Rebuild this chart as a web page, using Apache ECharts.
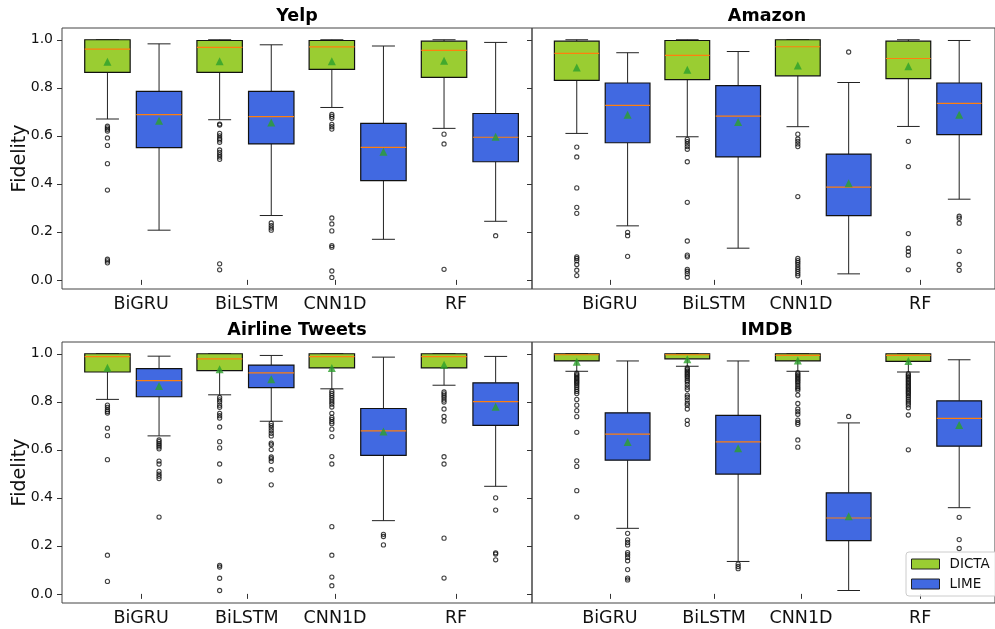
<!DOCTYPE html>
<html>
<head>
<meta charset="utf-8">
<script src="https://cdn.jsdelivr.net/npm/echarts@6/dist/echarts.min.js"></script>
<style>html,body{margin:0;padding:0;background:#fff}#c{width:995px;height:629px}</style>
</head>
<body>
<div id="c"></div>
<script>
// ---------------- data ----------------
const models = ['BiGRU', 'BiLSTM', 'CNN1D', 'RF'];
const datasets = ['Yelp', 'Amazon', 'Airline Tweets', 'IMDB'];
const modelTickPos = [1.07, 2.012, 2.799, 3.877];
const pairCenters = [1, 2, 3, 4];
const yTicks = [0.0, 0.2, 0.4, 0.6, 0.8, 1.0];
// box stats per model: [lowWhisker, q1, median, q3, highWhisker, mean]
const yelpDICTA = [[0.670, 0.864, 0.961, 1.0, 1.0, 0.908], [0.667, 0.864, 0.968, 0.997, 1.0, 0.911], [0.718, 0.877, 0.970, 0.997, 1.0, 0.911], [0.631, 0.843, 0.956, 0.994, 1.0, 0.913]];
const yelpLIME = [[0.207, 0.551, 0.688, 0.785, 0.983, 0.663], [0.268, 0.566, 0.680, 0.785, 0.979, 0.655], [0.169, 0.413, 0.552, 0.652, 0.974, 0.534], [0.244, 0.492, 0.594, 0.693, 0.989, 0.596]];
const amazonDICTA = [[0.610, 0.831, 0.943, 0.994, 1.0, 0.885], [0.596, 0.834, 0.935, 0.997, 1.0, 0.875], [0.638, 0.850, 0.971, 1.0, 1.0, 0.893], [0.639, 0.838, 0.922, 0.994, 1.0, 0.890]];
const amazonLIME = [[0.225, 0.571, 0.727, 0.820, 0.946, 0.688], [0.132, 0.512, 0.682, 0.809, 0.951, 0.657], [0.025, 0.268, 0.386, 0.524, 0.822, 0.402], [0.336, 0.605, 0.735, 0.820, 0.997, 0.688]];
const airlineDICTA = [[0.810, 0.924, 0.988, 1.0, 1.0, 0.942], [0.829, 0.930, 0.979, 1.0, 1.0, 0.935], [0.854, 0.941, 0.988, 1.0, 1.0, 0.941], [0.869, 0.941, 0.988, 1.0, 1.0, 0.954]];
const airlineLIME = [[0.658, 0.821, 0.888, 0.938, 0.990, 0.866], [0.719, 0.859, 0.920, 0.953, 0.993, 0.894], [0.305, 0.577, 0.679, 0.772, 0.986, 0.676], [0.448, 0.702, 0.801, 0.879, 0.989, 0.779]];
const imdbDICTA = [[0.927, 0.970, 0.996, 1.0, 1.0, 0.967], [0.948, 0.979, 0.996, 1.0, 1.0, 0.977], [0.927, 0.970, 0.993, 1.0, 1.0, 0.972], [0.924, 0.968, 0.993, 1.0, 1.0, 0.970]];
const imdbLIME = [[0.273, 0.557, 0.665, 0.754, 0.970, 0.633], [0.135, 0.499, 0.633, 0.743, 0.970, 0.607], [0.014, 0.222, 0.316, 0.421, 0.712, 0.323], [0.359, 0.615, 0.731, 0.804, 0.975, 0.703]];
// outliers per model
const yelpDICTAOut = [[0.640, 0.633, 0.627, 0.620, 0.591, 0.560, 0.484, 0.374, 0.086, 0.079, 0.071], [0.649, 0.645, 0.610, 0.600, 0.590, 0.583, 0.573, 0.541, 0.531, 0.521, 0.512, 0.502, 0.067, 0.042], [0.689, 0.681, 0.673, 0.648, 0.638, 0.628, 0.258, 0.233, 0.204, 0.143, 0.136, 0.037, 0.010], [0.607, 0.566, 0.044]];
const yelpLIMEOut = [[], [0.237, 0.226, 0.216, 0.207], [], [0.184]];
const amazonDICTAOut = [[0.553, 0.512, 0.383, 0.302, 0.277, 0.096, 0.089, 0.080, 0.064, 0.040, 0.018], [0.585, 0.576, 0.566, 0.555, 0.544, 0.492, 0.323, 0.162, 0.103, 0.096, 0.044, 0.036, 0.026, 0.011], [0.607, 0.587, 0.577, 0.566, 0.555, 0.347, 0.089, 0.080, 0.072, 0.063, 0.053, 0.044, 0.035, 0.026, 0.017], [0.577, 0.472, 0.193, 0.132, 0.118, 0.103, 0.042]];
const amazonLIMEOut = [[0.198, 0.184, 0.098], [], [0.949], [0.265, 0.257, 0.236, 0.119, 0.064, 0.040]];
const airlineDICTAOut = [[0.786, 0.777, 0.767, 0.760, 0.753, 0.690, 0.659, 0.559, 0.161, 0.052], [0.818, 0.808, 0.799, 0.786, 0.777, 0.752, 0.742, 0.732, 0.695, 0.634, 0.608, 0.541, 0.470, 0.119, 0.112, 0.065, 0.014], [0.844, 0.835, 0.826, 0.817, 0.808, 0.799, 0.790, 0.778, 0.752, 0.735, 0.727, 0.717, 0.709, 0.686, 0.655, 0.572, 0.541, 0.280, 0.161, 0.070, 0.034], [0.841, 0.833, 0.825, 0.817, 0.807, 0.799, 0.770, 0.739, 0.720, 0.571, 0.541, 0.232, 0.066]];
const airlineLIMEOut = [[0.641, 0.634, 0.626, 0.619, 0.612, 0.604, 0.553, 0.541, 0.510, 0.499, 0.490, 0.480, 0.320], [0.710, 0.701, 0.691, 0.680, 0.669, 0.658, 0.628, 0.621, 0.601, 0.570, 0.563, 0.552, 0.517, 0.454], [0.248, 0.239, 0.204], [0.400, 0.349, 0.171, 0.166, 0.142]];
const imdbDICTAOut = [[0.919, 0.913, 0.908, 0.902, 0.897, 0.891, 0.886, 0.880, 0.874, 0.867, 0.859, 0.851, 0.843, 0.834, 0.810, 0.786, 0.763, 0.738, 0.673, 0.554, 0.531, 0.430, 0.320], [0.941, 0.935, 0.929, 0.923, 0.917, 0.911, 0.905, 0.898, 0.890, 0.883, 0.872, 0.861, 0.851, 0.828, 0.819, 0.807, 0.794, 0.786, 0.770, 0.723, 0.706], [0.921, 0.915, 0.909, 0.903, 0.897, 0.891, 0.885, 0.878, 0.870, 0.862, 0.855, 0.848, 0.828, 0.793, 0.770, 0.759, 0.748, 0.724, 0.714, 0.706, 0.641, 0.611], [0.917, 0.911, 0.905, 0.899, 0.893, 0.887, 0.881, 0.875, 0.869, 0.863, 0.857, 0.851, 0.845, 0.839, 0.833, 0.826, 0.819, 0.811, 0.803, 0.795, 0.787, 0.775, 0.745, 0.600]];
const imdbLIMEOut = [[0.252, 0.225, 0.214, 0.204, 0.172, 0.163, 0.152, 0.138, 0.101, 0.066, 0.058], [0.124, 0.114, 0.105], [0.739], [0.319, 0.226, 0.189]];

// ---------------- styling / layout ----------------
const FONT = 'DejaVu Sans';
const DICTA_COLOR = '#9acd32';
const LIME_COLOR = '#4169e1';
const MEDIAN_COLOR = '#ff7f0e';
const MEAN_COLOR = '#2ca02c';
const OFFSET = 0.23;
const BOX_W = 0.405;
const CAP_W = 0.205;
const grids = [
  {left: 62, top: 28, width: 470, height: 261},
  {left: 532, top: 28, width: 470, height: 261},
  {left: 62, top: 342, width: 470, height: 261},
  {left: 532, top: 342, width: 470, height: 261}
];
const panels = [
  {name: datasets[0], d: yelpDICTA, l: yelpLIME, dOut: yelpDICTAOut, lOut: yelpLIMEOut},
  {name: datasets[1], d: amazonDICTA, l: amazonLIME, dOut: amazonDICTAOut, lOut: amazonLIMEOut},
  {name: datasets[2], d: airlineDICTA, l: airlineLIME, dOut: airlineDICTAOut, lOut: airlineLIMEOut},
  {name: datasets[3], d: imdbDICTA, l: imdbLIME, dOut: imdbDICTAOut, lOut: imdbLIMEOut}
];

function makeRender(fill) {
  return function (params, api) {
    const x = api.value(0);
    const lo = api.coord([x, api.value(1)]);
    const q1 = api.coord([x, api.value(2)]);
    const med = api.coord([x, api.value(3)]);
    const q3 = api.coord([x, api.value(4)]);
    const hi = api.coord([x, api.value(5)]);
    const hw = api.size([BOX_W, 0])[0] / 2;
    const cw = api.size([CAP_W, 0])[0] / 2;
    const cx = lo[0];
    const ls = {stroke: '#222', lineWidth: 1};
    return {
      type: 'group',
      children: [
        {type: 'line', shape: {x1: cx, y1: lo[1], x2: cx, y2: q1[1]}, style: ls},
        {type: 'line', shape: {x1: cx, y1: q3[1], x2: cx, y2: hi[1]}, style: ls},
        {type: 'line', shape: {x1: cx - cw, y1: lo[1], x2: cx + cw, y2: lo[1]}, style: ls},
        {type: 'line', shape: {x1: cx - cw, y1: hi[1], x2: cx + cw, y2: hi[1]}, style: ls},
        {type: 'rect', shape: {x: cx - hw, y: q3[1], width: 2 * hw, height: q1[1] - q3[1]},
         style: {fill: fill, stroke: '#111', lineWidth: 1.2}},
        {type: 'line', shape: {x1: cx - hw, y1: med[1], x2: cx + hw, y2: med[1]},
         style: {stroke: MEDIAN_COLOR, lineWidth: 1.2}}
      ]
    };
  };
}

const xAxes = [], yAxes = [], series = [];
panels.forEach((p, gi) => {
  xAxes.push({
    type: 'value', gridIndex: gi, min: 0.365, max: 4.554,
    axisLine: {show: false}, splitLine: {show: false},
    axisTick: {show: true, length: 5, customValues: modelTickPos, lineStyle: {color: '#333'}},
    axisLabel: {show: true, customValues: modelTickPos, margin: 6, fontFamily: FONT, fontSize: 17.5, color: '#111',
      formatter: v => { let bi = 0; modelTickPos.forEach((t, i) => { if (Math.abs(t - v) < Math.abs(modelTickPos[bi] - v)) bi = i; }); return models[bi]; }}
  });
  const left = gi % 2 === 0;
  yAxes.push({
    type: 'value', gridIndex: gi, min: -0.038, max: 1.049,
    name: left ? 'Fidelity' : '', nameLocation: 'middle', nameGap: 32, nameRotate: 90,
    nameMoveOverlap: false,
    nameTextStyle: {fontFamily: FONT, fontSize: 19, color: '#111'},
    axisLine: {show: false}, splitLine: {show: false},
    axisTick: {show: true, length: 5, customValues: yTicks, lineStyle: {color: '#333'}},
    axisLabel: {show: left, customValues: yTicks, margin: 9, fontFamily: FONT, fontSize: 14, color: '#111',
      formatter: v => v.toFixed(1)}
  });
  [['DICTA', p.d, p.dOut, DICTA_COLOR, -OFFSET], ['LIME', p.l, p.lOut, LIME_COLOR, OFFSET]].forEach(([nm, stats, outs, col, off]) => {
    series.push({
      type: 'custom', name: nm, xAxisIndex: gi, yAxisIndex: gi,
      itemStyle: {color: col},
      renderItem: makeRender(col),
      encode: {x: 0, y: [1, 2, 3, 4, 5]},
      data: stats.map((s, i) => [pairCenters[i] + off, s[0], s[1], s[2], s[3], s[4]]),
      z: 2, silent: true
    });
    const od = [];
    outs.forEach((arr, i) => arr.forEach(v => od.push([pairCenters[i] + off, v])));
    series.push({
      type: 'scatter', name: nm + ' outliers', xAxisIndex: gi, yAxisIndex: gi,
      symbol: 'circle', symbolSize: 4.2,
      itemStyle: {color: 'rgba(255,255,255,0)', borderColor: '#111', borderWidth: 1.1},
      data: od, z: 3, silent: true
    });
    series.push({
      type: 'scatter', name: nm + ' mean', xAxisIndex: gi, yAxisIndex: gi,
      symbol: 'triangle', symbolSize: 8,
      itemStyle: {color: MEAN_COLOR},
      data: stats.map((s, i) => [pairCenters[i] + off, s[5]]), z: 4, silent: true
    });
  });
});

const titles = panels.map((p, gi) => ({
  type: 'text',
  x: grids[gi].left + 235, y: grids[gi].top - 12,
  style: {text: p.name, fontFamily: FONT, fontSize: 17.5, fontWeight: 'bold', fill: '#000',
    textAlign: 'center', textVerticalAlign: 'middle'}
}));

const chart = echarts.init(document.getElementById('c'), null, {renderer: 'canvas'});
chart.setOption({
  animation: false,
  backgroundColor: '#fff',
  grid: grids.map(g => Object.assign({show: true, borderColor: '#444', borderWidth: 1, backgroundColor: 'transparent'}, g)),
  xAxis: xAxes,
  yAxis: yAxes,
  graphic: titles,
  legend: {
    orient: 'vertical', left: 906, top: 552,
    padding: [5, 8, 5, 5], itemWidth: 28, itemHeight: 10, itemGap: 6,
    borderColor: '#ccc', borderWidth: 1, borderRadius: 3, backgroundColor: 'rgba(255,255,255,0.85)',
    textStyle: {fontFamily: FONT, fontSize: 13.5, color: '#111', padding: [0, 0, 0, 5]},
    data: [
      {name: 'DICTA', icon: 'rect', itemStyle: {color: DICTA_COLOR, borderColor: '#222', borderWidth: 1}},
      {name: 'LIME', icon: 'rect', itemStyle: {color: LIME_COLOR, borderColor: '#222', borderWidth: 1}}
    ]
  },
  series: series
});
</script>
</body>
</html>
